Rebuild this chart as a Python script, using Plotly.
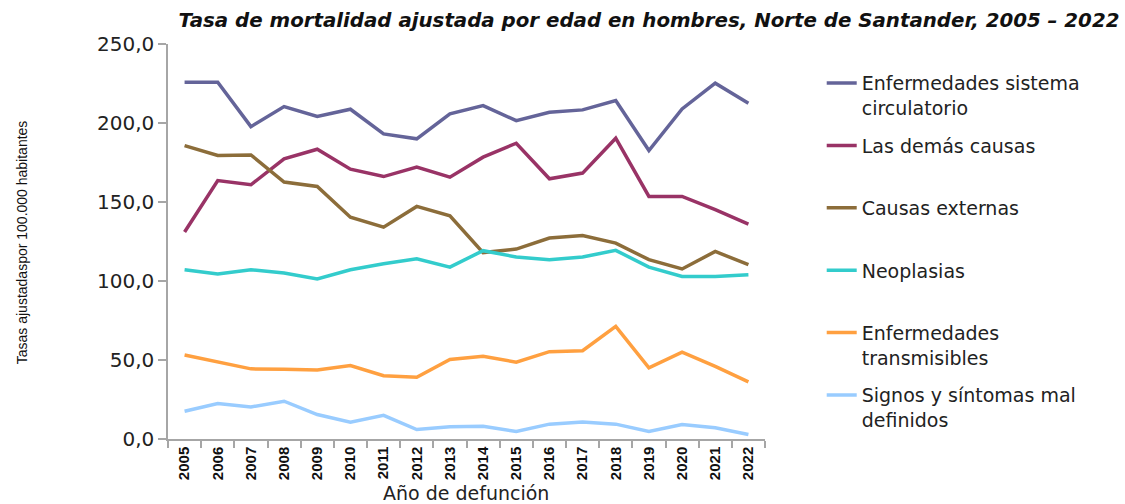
import plotly.graph_objects as go

years = [str(y) for y in range(2005, 2023)]

circulatorio = [225.8, 225.8, 197.7, 210.4, 204.1, 208.7, 193.1, 190.0, 205.8, 211.0,
                201.5, 206.8, 208.3, 214.2, 182.6, 208.9, 225.2, 212.5]
demas_causas = [131.0, 163.6, 160.9, 177.3, 183.4, 170.8, 166.1, 172.1, 165.7, 178.4,
                187.2, 164.7, 168.3, 190.4, 153.5, 153.5, 145.1, 136.0]
externas = [185.7, 179.4, 179.8, 162.6, 159.8, 140.4, 134.1, 147.2, 141.3, 118.0,
            120.2, 127.2, 128.8, 124.0, 113.5, 107.6, 118.7, 110.3]
neoplasias = [107.1, 104.4, 107.1, 105.1, 101.3, 107.1, 110.9, 114.1, 108.8, 119.2,
              115.2, 113.5, 115.2, 119.4, 108.8, 102.9, 102.9, 104.0]
transmisibles = [53.2, 48.8, 44.4, 44.2, 43.7, 46.5, 40.1, 39.1, 50.3, 52.4,
                 48.6, 55.3, 55.9, 71.3, 45.0, 54.9, 46.0, 36.2]
signos = [17.6, 22.4, 20.3, 23.9, 15.5, 10.6, 15.0, 6.0, 7.7, 8.1,
          4.7, 9.4, 10.8, 9.4, 4.7, 9.2, 7.1, 2.8]

names = ["Enfermedades sistema<br>circulatorio", "Las demás causas<br> ",
         "Causas externas<br> ", "Neoplasias<br> ",
         "Enfermedades<br>transmisibles", "Signos y síntomas mal<br>definidos"]
series = [circulatorio, demas_causas, externas, neoplasias, transmisibles, signos]
colors = ["#646499", "#993366", "#8C6D3A", "#33CCCC", "#FFA040", "#99CCFF"]

fig = go.Figure()
for i, (nm, vals, c) in enumerate(zip(names, series, colors)):
    fig.add_trace(go.Scatter(x=years, y=vals, mode="lines", name=nm,
                             legendgroup=f"g{i}",
                             line=dict(color=c, width=3.5)))

fig.update_layout(
    width=1125, height=504,
    margin=dict(l=168, r=360, t=44, b=64.5, autoexpand=False),
    paper_bgcolor="white", plot_bgcolor="white",
    font=dict(family="DejaVu Sans", size=19, color="#222222"),
    title=dict(text="<b><i>Tasa de mortalidad ajustada por edad en hombres, Norte de Santander, 2005 – 2022</i></b>",
               font=dict(family="DejaVu Sans", size=19.8, color="#111111"),
               x=649 / 1125, xanchor="center", xref="container",
               y=1 - 20 / 504, yanchor="middle", yref="container"),
    showlegend=True,
    legend=dict(x=1.095, xanchor="left", y=0.949, yanchor="top",
                font=dict(family="DejaVu Sans", size=19, color="#222222"),
                tracegroupgap=10, valign="top", bgcolor="rgba(0,0,0,0)",
                maxheight=500),
    xaxis=dict(type="category", showgrid=False, showline=True, linecolor="#A6A6A6",
               linewidth=1.5, ticks="outside", tickson="boundaries", ticklen=7,
               tickcolor="#A6A6A6", tickwidth=1.5, tickangle=-90, automargin=False,
               tickfont=dict(family="Liberation Sans", size=15, color="#111111",
                             weight="bold"),
               range=[-0.5, 17.5]),
    yaxis=dict(range=[0, 250], dtick=50, tickformat=".1f", showgrid=False,
               showline=True, linecolor="#A6A6A6", linewidth=1.5, ticks="outside",
               ticklen=8, tickcolor="#A6A6A6", tickwidth=1.5, zeroline=False,
               automargin=False,
               tickfont=dict(family="DejaVu Sans", size=20, color="#222222")),
    separators=",.",
    annotations=[
        dict(text="Tasas ajustadaspor 100.000 habitantes", textangle=-90,
             xref="paper", yref="paper", x=(22 - 168) / 597, y=(439.5 - 242.5) / 395.5,
             xanchor="center", yanchor="middle", showarrow=False,
             font=dict(family="Liberation Sans", size=14, color="#111111")),
        dict(text="Año de defunción", xref="paper", yref="paper",
             x=0.499, y=(439.5 - 494) / 395.5, xanchor="center", yanchor="middle",
             showarrow=False, font=dict(family="DejaVu Sans", size=19, color="#222222")),
    ],
)

fig.write_html("out.html", config={"displayModeBar": False},
               post_script="document.body.style.margin='0';document.body.style.overflow='hidden';")
